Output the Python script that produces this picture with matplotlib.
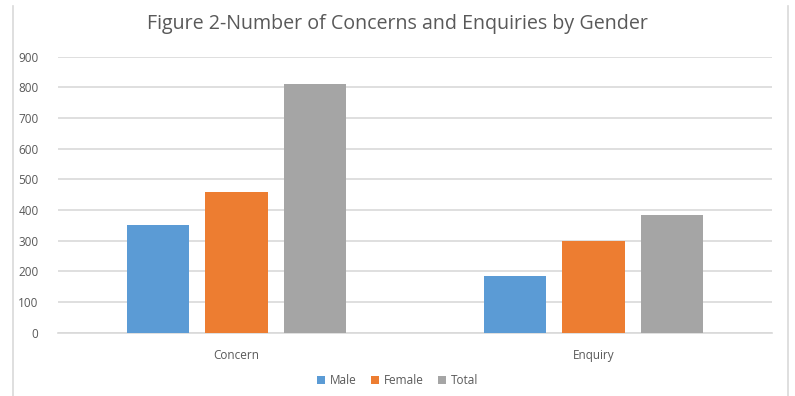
import matplotlib.pyplot as plt
from matplotlib.lines import Line2D
import numpy as np

categories = ["Concern", "Enquiry"]
series_names = ["Male", "Female", "Total"]
male = [352, 184]
female = [460, 299]
total = [812, 382]
colors = ["#5b9bd5", "#ed7d31", "#a5a5a5"]
yticks = list(range(0, 1000, 100))

text_color = "#595959"
plt.rcParams["font.family"] = ["Open Sans", "DejaVu Sans"]

fig = plt.figure(figsize=(7.95, 3.96), dpi=100)
ax = fig.add_axes([0.073, 0.160, 0.898, 0.697])

x = np.arange(len(categories))
width = 0.174
step = 0.221
for i, (name, vals) in enumerate(zip(series_names, [male, female, total])):
    ax.bar(x + (i - 1) * step, vals, width, color=colors[i], label=name, zorder=3)

ax.set_xlim(-0.5, 1.5)
ax.set_ylim(0, 900)
ax.set_yticks(yticks)
ax.set_xticks(x)
ax.set_xticklabels(categories)
ax.yaxis.grid(True, color="#d9d9d9", linewidth=1.2, zorder=0)
for side in ["top", "right", "left"]:
    ax.spines[side].set_visible(False)
ax.spines["bottom"].set_color("#d9d9d9")
ax.spines["bottom"].set_linewidth(1.2)
ax.tick_params(axis="both", length=0, colors=text_color, labelsize=8.5)
ax.tick_params(axis="x", pad=12)
ax.tick_params(axis="y", pad=14)

fig.text(0.5, 0.94, "Figure 2-Number of Concerns and Enquiries by Gender",
         ha="center", va="center", fontsize=14.1, color=text_color)

fig.legend(loc="center", bbox_to_anchor=(0.5, 0.038), ncol=3, frameon=False,
           fontsize=8.5, labelcolor=text_color, handlelength=0.7, handleheight=0.7,
           handletextpad=0.4, columnspacing=1.2)

# thin frame lines down both sides
fig.add_artist(Line2D([0.016, 0.016], [0.0, 0.985], color="#d9d9d9", linewidth=1.2))
fig.add_artist(Line2D([0.991, 0.991], [0.0, 0.985], color="#d9d9d9", linewidth=1.2))

fig.savefig("out.png", dpi=100)
